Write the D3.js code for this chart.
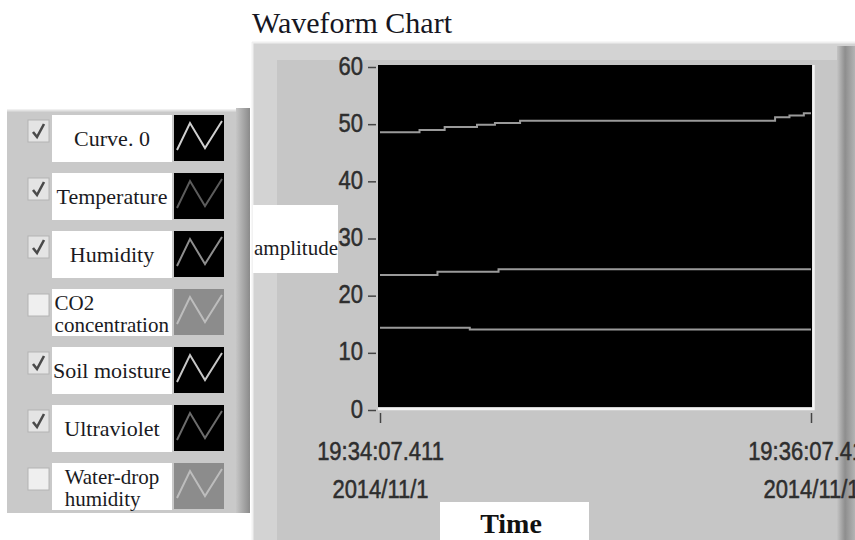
<!DOCTYPE html>
<html>
<head>
<meta charset="utf-8">
<script src="https://cdn.jsdelivr.net/npm/d3@7"></script>
<style>
  body { margin: 0; background: #fff; }
  svg { display: block; }
  .tick text { fill: #2e2e2e; stroke: #2e2e2e; stroke-width: 0.45; font-family: "Liberation Sans", Arial, sans-serif; font-size: 22px; }
  .tick line { stroke: #444; stroke-width: 1.5; }
</style>
</head>
<body>
<svg id="chart" width="855" height="540"></svg>
<script>
// legend entries and their checkbox state
const legendNames = [["Curve. 0"], ["Temperature"], ["Humidity"], ["CO2", "concentration"],
  ["Soil moisture"], ["Ultraviolet"], ["Water-drop", "humidity"]];
const legendChecked = [true, true, true, false, true, true, false];

// y ticks
const yTicks = [0, 10, 20, 30, 40, 50, 60];

// time axis: start and end of the two-minute window
const startTime = new Date(2014, 10, 1, 19, 34, 7, 411);
const endTime = new Date(2014, 10, 1, 19, 36, 7, 411);

// visible series, seconds since start and value at that moment
const humiditySec = [0, 11, 18, 27, 32, 39, 110, 114, 118, 120];
const humidityVal = [48.6, 49.0, 49.5, 49.9, 50.2, 50.6, 51.2, 51.5, 51.9, 51.9];
const temperatureSec = [0, 16, 33, 120];
const temperatureVal = [23.6, 24.2, 24.6, 24.6];
const soilSec = [0, 25, 120];
const soilVal = [14.4, 14.1, 14.1];

const svg = d3.select("#chart");

const x = d3.scaleTime().domain([startTime, endTime]).range([380, 811]);
const y = d3.scaleLinear().domain([0, 60]).range([410, 67]);

// ---- chart frame ----
const defs = svg.append("defs");
const rg = defs.append("linearGradient").attr("id", "rshade");
rg.append("stop").attr("offset", "0%").attr("stop-color", "#c4c4c4");
rg.append("stop").attr("offset", "45%").attr("stop-color", "#8e8e8e");
rg.append("stop").attr("offset", "100%").attr("stop-color", "#b4b4b4");
const lg = defs.append("linearGradient").attr("id", "lshade");
lg.append("stop").attr("offset", "0%").attr("stop-color", "#c6c6c6");
lg.append("stop").attr("offset", "100%").attr("stop-color", "#8a8a8a");

svg.append("rect").attr("x", 252).attr("y", 42).attr("width", 603).attr("height", 498).attr("fill", "#d3d3d3");
svg.append("rect").attr("x", 277).attr("y", 60).attr("width", 560).attr("height", 480).attr("fill", "#c6c6c6");
svg.append("rect").attr("x", 837).attr("y", 46).attr("width", 18).attr("height", 494).attr("fill", "url(#rshade)");
svg.append("line").attr("x1", 252.5).attr("x2", 252.5).attr("y1", 42).attr("y2", 540).attr("stroke", "#f2f2f2").attr("stroke-width", 2);
svg.append("line").attr("x1", 252).attr("x2", 855).attr("y1", 42.5).attr("y2", 42.5).attr("stroke", "#efefef").attr("stroke-width", 2);

svg.append("text")
  .attr("x", 252).attr("y", 33)
  .attr("font-family", "Liberation Serif, Times New Roman, serif")
  .attr("font-size", 30).attr("fill", "#161622")
  .text("Waveform Chart");

// ---- plot area ----
svg.append("rect")
  .attr("x", x.range()[0] - 2).attr("y", y(60) - 2)
  .attr("width", x.range()[1] - x.range()[0] + 3)
  .attr("height", y(0) - y(60) - 1)
  .attr("fill", "#000");
svg.append("path")
  .attr("d", `M${x.range()[0] - 2},${y(0) - 1}H${x.range()[1] + 2.5}V${y(60) - 2}`)
  .attr("fill", "none").attr("stroke", "#f4f4f4").attr("stroke-width", 2.5);

const series = [
  { sec: humiditySec, val: humidityVal },
  { sec: temperatureSec, val: temperatureVal },
  { sec: soilSec, val: soilVal }
];
const line = d3.line()
  .x(d => x(d3.timeMillisecond.offset(startTime, d[0] * 1000)))
  .y(d => y(d[1]))
  .curve(d3.curveStepAfter);
svg.append("g").selectAll("path")
  .data(series)
  .join("path")
  .attr("d", s => line(s.sec.map((t, i) => [t, s.val[i]])))
  .attr("fill", "none").attr("stroke", "#9a9a9a").attr("stroke-width", 2);

// ---- axes ----
const yAxis = svg.append("g")
  .attr("transform", "translate(376,0)")
  .call(d3.axisLeft(y).tickValues(yTicks).tickSize(8).tickPadding(5));
yAxis.select(".domain").remove();
yAxis.selectAll("text").attr("transform", "scale(1,1.15)").attr("dy", "0.28em");

const fmtTime = d3.timeFormat("%H:%M:%S.%L");
const fmtDate = d => `${d.getFullYear()}/${d.getMonth() + 1}/${d.getDate()}`;
const xAxis = svg.append("g")
  .attr("transform", "translate(0,413)")
  .call(d3.axisBottom(x).tickValues([startTime, endTime]).tickSize(10).tickFormat(""));
xAxis.select(".domain").remove();
xAxis.selectAll(".tick").each(function (d) {
  const g = d3.select(this);
  g.select("text").remove();
  g.append("text").attr("text-anchor", "middle")
    .attr("transform", "translate(0,47) scale(1,1.2)").text(fmtTime(d));
  g.append("text").attr("text-anchor", "middle")
    .attr("transform", "translate(0,85) scale(1,1.2)").text(fmtDate(d));
});

// axis name boxes
svg.append("rect").attr("x", 253).attr("y", 205).attr("width", 85).attr("height", 68).attr("fill", "#fff");
svg.append("text").attr("x", 296).attr("y", 255).attr("text-anchor", "middle")
  .attr("font-family", "Liberation Serif, Times New Roman, serif").attr("font-size", 21).attr("fill", "#1a1a22")
  .text("amplitude");
svg.append("rect").attr("x", 440).attr("y", 502).attr("width", 149).attr("height", 38).attr("fill", "#fff");
svg.append("text").attr("x", 511).attr("y", 533).attr("text-anchor", "middle")
  .attr("font-family", "Liberation Serif, Times New Roman, serif").attr("font-size", 28)
  .attr("font-weight", "bold").attr("fill", "#111")
  .text("Time");

// ---- legend ----
svg.append("rect").attr("x", 7).attr("y", 110).attr("width", 243).attr("height", 403).attr("fill", "#c9c9c9");
svg.append("rect").attr("x", 236).attr("y", 108).attr("width", 14).attr("height", 405).attr("fill", "url(#lshade)");
svg.append("line").attr("x1", 7).attr("x2", 236).attr("y1", 110.5).attr("y2", 110.5).attr("stroke", "#e2e2e2").attr("stroke-width", 2);

const rowY = d3.scaleBand().domain(d3.range(legendNames.length)).range([115, 115 + 58 * legendNames.length]);
const iconColors = ["#cfcfcf", "#5c5c5c", "#8e8e8e", "#bdbdbd", "#c6c6c6", "#6c6c6c", "#bdbdbd"];

const rows = svg.append("g").selectAll("g")
  .data(legendNames)
  .join("g")
  .attr("transform", (d, i) => `translate(0,${rowY(i)})`);

rows.append("rect").attr("x", 28).attr("y", 5).attr("width", 21).attr("height", 22)
  .attr("fill", (d, i) => legendChecked[i] ? "#e4e4e4" : "#efefef")
  .attr("stroke", "#b4b4b4").attr("stroke-width", 1);
rows.filter((d, i) => legendChecked[i]).append("path")
  .attr("d", "M33,17 L37,22 L44,9")
  .attr("fill", "none").attr("stroke", "#4a4a4a").attr("stroke-width", 2.6);

rows.append("rect").attr("x", 52).attr("y", 0).attr("width", 120).attr("height", 47).attr("fill", "#fff");

rows.append("rect").attr("x", 174).attr("y", 0).attr("width", 50).attr("height", 46)
  .attr("fill", (d, i) => legendChecked[i] ? "#000" : "#8c8c8c");
rows.append("path")
  .attr("d", "M177,35 L190,8 L205,33 L222,6")
  .attr("fill", "none").attr("stroke", (d, i) => iconColors[i]).attr("stroke-width", 2);

rows.each(function (names) {
  const two = names.length > 1;
  const t = d3.select(this).append("text")
    .attr("font-family", "Liberation Serif, Times New Roman, serif")
    .attr("font-size", two ? 21 : 22).attr("fill", "#1a1a22");
  const base = two ? 21 : 31;
  names.forEach((s, k) => t.append("tspan").attr("x", 0).attr("y", base + k * 22).text(s));
  const w = t.node().getBBox().width;
  t.attr("transform", `translate(${112 - w / 2},0)`);
});
</script>
</body>
</html>
